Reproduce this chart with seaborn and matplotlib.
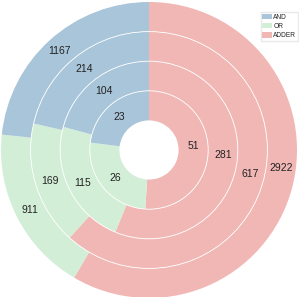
import matplotlib
matplotlib.use("Agg")
import numpy as np
import matplotlib.pyplot as plt
import seaborn as sns
from matplotlib.patches import Patch, Circle

# data: one ring per level, inner -> outer
categories = ["AND", "OR", "ADDER"]
ring_and = [23, 104, 214, 1167]
ring_or = [26, 115, 169, 911]
ring_adder = [51, 281, 617, 2922]

colors = {"AND": "#a9c5d9", "OR": "#d3eed7", "ADDER": "#f1b7b5"}
# where along each wedge (from its start, clockwise) the value label sits
label_pos = {"AND": 0.5, "OR": 0.5, "ADDER": 0.465}

sns.set_theme(style="white")
plt.rcParams["font.family"] = ["Liberation Sans", "DejaVu Sans"]

fig = plt.figure(figsize=(2.99, 2.97), dpi=100)
W, H = 299, 297
cx, cy, R = 149, 150, 148
ax = fig.add_axes([(cx - R) / W, (H - cy - R) / H, 2 * R / W, 2 * R / H])

hole = 0.2
width = 0.2
order = ["ADDER", "OR", "AND"]
for i in range(len(ring_and)):
    vals = [ring_adder[i], ring_or[i], ring_and[i]]
    outer = hole + width * (i + 1)
    wedges, _ = ax.pie(
        vals, radius=outer, startangle=90, counterclock=False,
        colors=[colors[c] for c in order],
        wedgeprops=dict(width=width, linewidth=0),
        frame=True,
    )
    rmid = outer - width / 2
    for w, v, c in zip(wedges, vals, order):
        # clockwise wedge: starts at theta2, ends at theta1
        ang = np.deg2rad(w.theta2 - label_pos[c] * (w.theta2 - w.theta1))
        ax.text(rmid * np.cos(ang), rmid * np.sin(ang), str(v), fontsize=7.5,
                color="#222222", ha="center", va="center")

# thin white lines between rings
for i in range(1, len(ring_and)):
    ax.add_patch(Circle((0, 0), hole + width * i, fill=False, edgecolor="white", lw=0.6))
ax.set_xlim(-1, 1)
ax.set_ylim(-1, 1)
ax.axis("off")

handles = [Patch(facecolor=colors[c], edgecolor="none") for c in categories]
fig.legend(handles, categories, loc="upper right", bbox_to_anchor=(298 / W, 1 - 12 / H),
           fontsize=4.8, frameon=True, edgecolor="#e4e4e4", fancybox=False,
           handlelength=1.5, handleheight=0.8, handletextpad=0.15, borderpad=0.25,
           labelspacing=0.35, borderaxespad=0)

fig.savefig("out.png", dpi=100)
